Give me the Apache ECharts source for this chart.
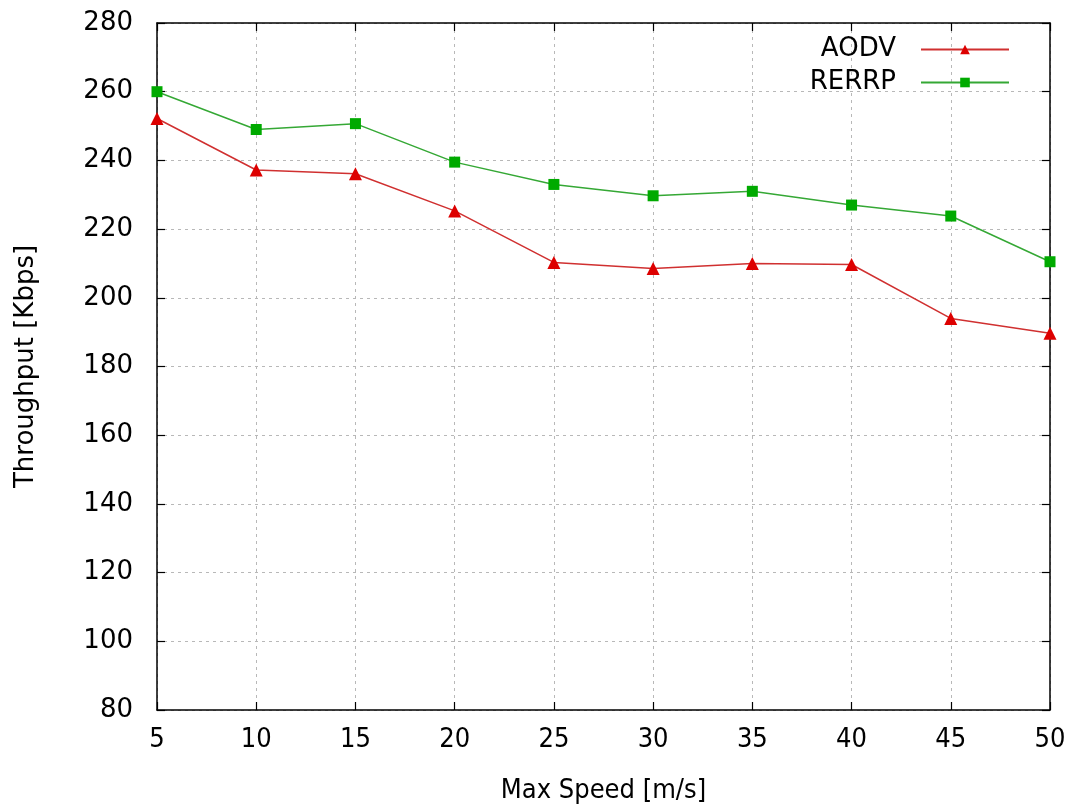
<!DOCTYPE html>
<html>
<head>
<meta charset="utf-8">
<script src="https://cdn.jsdelivr.net/npm/echarts@6/dist/echarts.min.js"></script>
<style>
html,body{margin:0;padding:0;background:#fff;}
#chart{width:1075px;height:809px;}
</style>
</head>
<body>
<div id="chart"></div>
<script>
const speeds = [5, 10, 15, 20, 25, 30, 35, 40, 45, 50];
const aodv = [252.2, 237.2, 236.1, 225.3, 210.3, 208.5, 210.0, 209.7, 194.0, 189.7];
const rerrp = [260.0, 249.0, 250.7, 239.5, 233.0, 229.7, 231.0, 227.0, 223.8, 210.5];
const seriesNames = ['AODV', 'RERRP'];
const xTitle = 'Max Speed [m/s]';
const yTitle = 'Throughput [Kbps]';

const FONT = "'DejaVu Sans', sans-serif";
const FONT_X = "'DejaVu Sans Condensed', 'DejaVu Sans', sans-serif";

const gridLine = { show: true, lineStyle: { color: '#b8b8b8', type: [3, 4], width: 1 } };
const axLine = { show: true, lineStyle: { color: '#000', width: 1.5 } };
const tick = { show: true, inside: true, length: 8, lineStyle: { color: '#000', width: 1.2 } };

const chart = echarts.init(document.getElementById('chart'), null, { renderer: 'canvas' });
chart.setOption({
  animation: false,
  backgroundColor: '#fff',
  grid: { left: 157, right: 25, top: 23, bottom: 95, containLabel: false },
  legend: {
    orient: 'vertical',
    right: 60,
    top: 30,
    align: 'right',
    itemWidth: 88,
    itemHeight: 12,
    itemGap: 4,
    textStyle: { fontFamily: FONT, fontSize: 26, color: '#000', padding: [0, 20, 0, 0], lineHeight: 29 },
    data: seriesNames
  },
  xAxis: [
    {
      type: 'value', min: 5, max: 50, interval: 5,
      axisLine: axLine, axisTick: tick, splitLine: gridLine,
      axisLabel: { fontFamily: FONT_X, fontSize: 27, color: '#000', margin: 16 },
      name: xTitle, nameLocation: 'middle', nameGap: 67,
      nameTextStyle: { fontFamily: FONT_X, fontSize: 27, color: '#000' }
    },
    {
      type: 'value', min: 5, max: 50, interval: 5, position: 'top',
      axisLine: axLine, axisTick: tick, splitLine: { show: false },
      axisLabel: { show: false }
    }
  ],
  yAxis: [
    {
      type: 'value', min: 80, max: 280, interval: 20,
      axisLine: axLine, axisTick: tick, splitLine: gridLine,
      axisLabel: { fontFamily: FONT, fontSize: 26, color: '#000', margin: 24 },
      name: yTitle, nameLocation: 'middle', nameGap: 118, nameRotate: 90,
      nameTextStyle: { fontFamily: FONT, fontSize: 26, color: '#000' }
    },
    {
      type: 'value', min: 80, max: 280, interval: 20, position: 'right',
      axisLine: axLine, axisTick: tick, splitLine: { show: false },
      axisLabel: { show: false }
    }
  ],
  series: [
    {
      name: seriesNames[0], type: 'line',
      data: speeds.map((s, i) => [s, aodv[i]]),
      symbol: 'triangle', symbolSize: 13,
      lineStyle: { color: '#d03030', width: 1.5 },
      itemStyle: { color: '#dd0000' },
      z: 3
    },
    {
      name: seriesNames[1], type: 'line',
      data: speeds.map((s, i) => [s, rerrp[i]]),
      symbol: 'rect', symbolSize: 11,
      lineStyle: { color: '#35a835', width: 1.5 },
      itemStyle: { color: '#00aa00' },
      z: 3
    }
  ]
});
</script>
</body>
</html>
